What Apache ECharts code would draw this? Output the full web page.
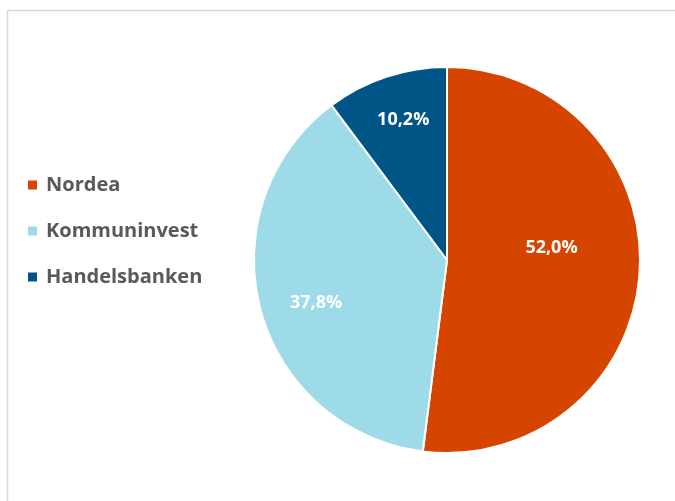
<!DOCTYPE html>
<html>
<head>
<meta charset="utf-8">
<script src="https://cdn.jsdelivr.net/npm/echarts@6/dist/echarts.min.js"></script>
<style>
html,body{margin:0;padding:0;background:#fff;}
#chart{width:675px;height:501px;}
</style>
</head>
<body>
<div id="chart"></div>
<script>
const categories = ['Nordea', 'Kommuninvest', 'Handelsbanken'];
const shares = [52.0, 37.8, 10.2];
const labelTexts = ['52,0%', '37,8%', '10,2%'];

const colors = ['#D64500', '#9CDBE7', '#005587'];
const pieCenter = [447, 260];
const pieRadius = 193;
// label placement tweaks (fraction of radius, angular shift in degrees)
const labelRadiusFrac = [0.545, 0.714, 0.76];
const labelAngleShift = [-10.2, -3.4, 1.0];

const chart = echarts.init(document.getElementById('chart'), null, {renderer: 'canvas'});

const data = categories.map((c, i) => ({
  name: c,
  value: shares[i],
  itemStyle: {color: colors[i]}
}));

chart.setOption({
  animation: false,
  backgroundColor: '#ffffff',
  graphic: [
    {type: 'line', shape: {x1: 7.5, y1: 10.5, x2: 675, y2: 10.5}, style: {stroke: '#d9d9d9', lineWidth: 1.5}},
    {type: 'line', shape: {x1: 7.5, y1: 10.5, x2: 7.5, y2: 501}, style: {stroke: '#d9d9d9', lineWidth: 1.5}}
  ],
  legend: {
    orient: 'vertical',
    left: 26,
    top: 175,
    padding: 0,
    itemWidth: 11,
    itemHeight: 11,
    itemGap: 26,
    icon: 'rect',
    data: categories,
    textStyle: {
      fontFamily: 'Open Sans',
      fontWeight: 'bold',
      fontSize: 20,
      lineHeight: 20,
      color: '#595959',
      padding: [0, 0, 0, 3]
    }
  },
  series: [{
    type: 'pie',
    center: pieCenter,
    radius: pieRadius,
    startAngle: 90,
    clockwise: true,
    avoidLabelOverlap: false,
    itemStyle: {borderColor: '#ffffff', borderWidth: 2},
    label: {
      show: true,
      position: 'inside',
      formatter: p => labelTexts[p.dataIndex],
      fontFamily: 'Open Sans',
      fontWeight: 'bold',
      fontSize: 18,
      color: '#ffffff'
    },
    labelLine: {show: false},
    emphasis: {disabled: true},
    labelLayout: function (params) {
      const r = params.labelRect;
      const cx = r.x + r.width / 2;
      const cy = r.y + r.height / 2;
      // clockwise-from-top angle of the default label position
      let theta = Math.atan2(cx - pieCenter[0], -(cy - pieCenter[1]));
      theta += labelAngleShift[params.dataIndex] * Math.PI / 180;
      const d = labelRadiusFrac[params.dataIndex] * pieRadius;
      return {
        x: pieCenter[0] + Math.sin(theta) * d,
        y: pieCenter[1] - Math.cos(theta) * d,
        align: 'center',
        verticalAlign: 'middle'
      };
    },
    data: data
  }]
});
</script>
</body>
</html>
